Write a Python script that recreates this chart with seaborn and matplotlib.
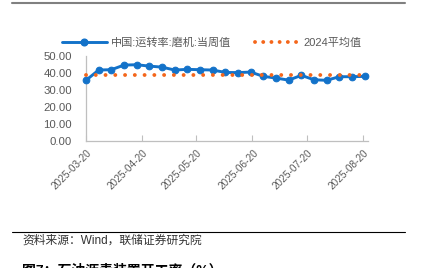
import matplotlib
matplotlib.use("Agg")
import matplotlib.pyplot as plt
from matplotlib.lines import Line2D
from matplotlib.transforms import ScaledTranslation
import seaborn as sns
import pandas as pd

# ---- data ----
dates = ["2025-03-20", "2025-03-27", "2025-04-03", "2025-04-10", "2025-04-17",
         "2025-04-24", "2025-05-01", "2025-05-08", "2025-05-15", "2025-05-22",
         "2025-05-29", "2025-06-05", "2025-06-12", "2025-06-19", "2025-06-26",
         "2025-07-03", "2025-07-10", "2025-07-17", "2025-07-24", "2025-07-31",
         "2025-08-07", "2025-08-14", "2025-08-21"]
weekly_rate = [35.5, 41.5, 41.7, 44.4, 44.6, 43.8, 43.2, 41.5, 41.9, 41.7,
               41.5, 40.1, 40.0, 40.3, 37.8, 36.8, 35.6, 38.4, 35.8, 35.5,
               37.6, 37.6, 37.8]
avg_2024 = 38.4
series_names = ["中国:运转率:磨机:当周值", "2024平均值"]
yticks = [0, 10, 20, 30, 40, 50]
xtick_dates = ["2025-03-20", "2025-04-20", "2025-05-20", "2025-06-20",
               "2025-07-20", "2025-08-20"]
source_text = "资料来源：Wind，联储证券研究院"
caption_text = "图7：石油沥青装置开工率（%）"

BLUE = "#1372C9"
ORANGE = "#F4661B"
GRAY_TXT = "#595959"
AXIS_GRAY = "#BFBFBF"

sns.set_theme(style="white")
plt.rcParams["font.family"] = ["Liberation Sans", "Noto Sans CJK SC", "DejaVu Sans"]

df = pd.DataFrame({
    "date": pd.to_datetime(dates),
    "rate": weekly_rate,
    "avg": [avg_2024] * len(dates),
})

W, H = 423, 268
fig = plt.figure(figsize=(W / 100, H / 100), dpi=100)
ax = fig.add_axes([86 / W, 1 - 141 / H, 282 / W, 85.5 / H])

sns.lineplot(data=df, x="date", y="rate", ax=ax, color=BLUE, lw=2.1,
             marker="o", markersize=4.8, markeredgecolor=BLUE,
             markerfacecolor=BLUE, clip_on=False, zorder=3)
sns.lineplot(data=df, x="date", y="avg", ax=ax, color=ORANGE, lw=2.8,
             clip_on=False, zorder=4)
dot_style = (0, (0.01, 2.5))
ax.lines[-1].set_linestyle(dot_style)
ax.lines[-1].set_dash_capstyle("round")

ax.set_xlim(pd.Timestamp("2025-03-20"), pd.Timestamp("2025-08-22 20:00"))
ax.set_ylim(0, 50)
ax.set_xlabel("")
ax.set_ylabel("")

ax.set_yticks(yticks)
ax.set_yticklabels([f"{v:.2f}" for v in yticks])
ax.tick_params(axis="y", length=0, pad=10, labelsize=8.2, labelcolor=GRAY_TXT)

xt = pd.to_datetime(xtick_dates)
ax.set_xticks(xt)
ax.set_xticklabels([d.strftime("%Y-%m-%d") for d in xt])
ax.tick_params(axis="x", direction="in", length=4, width=0.8, color=AXIS_GRAY,
               pad=7.2, labelsize=7.2, labelcolor=GRAY_TXT, bottom=True)
offset = ScaledTranslation(4 / 100, 0, fig.dpi_scale_trans)
for lab in ax.get_xticklabels():
    lab.set_rotation(45)
    lab.set_ha("right")
    lab.set_va("center")
    lab.set_rotation_mode("anchor")
    lab.set_transform(lab.get_transform() + offset)

for s in ["top", "right"]:
    ax.spines[s].set_visible(False)
for s in ["left", "bottom"]:
    ax.spines[s].set_color(AXIS_GRAY)
    ax.spines[s].set_linewidth(0.9)
ax.grid(False)

handles = [
    Line2D([], [], color=BLUE, lw=2.1, marker="o", markersize=4.8,
           markevery=[1]),
    Line2D([], [], color=ORANGE, lw=2.8, linestyle=(0, (0.01, 2.1)),
           dash_capstyle="round"),
]
leg = fig.legend(handles=handles, labels=series_names, loc="center",
                 bbox_to_anchor=(212 / W, 1 - 43 / H), ncol=2, frameon=False,
                 fontsize=8, handlelength=4, handletextpad=0.35,
                 columnspacing=2.2, labelcolor=GRAY_TXT)

fig.add_artist(Line2D([12 / W, 405 / W], [1 - 2.7 / H] * 2, color="#808080",
                      lw=1.5))
fig.add_artist(Line2D([12 / W, 405 / W], [1 - 232 / H] * 2, color="black",
                      lw=0.8))
fig.text(22 / W, 1 - 240.7 / H, source_text, fontsize=8.5, color="#333333",
         va="center", ha="left")
fig.text(22 / W, 1 - 263.5 / H, caption_text, fontsize=10, fontweight="bold",
         color="black", va="top", ha="left")

fig.savefig("out.png", dpi=100)
